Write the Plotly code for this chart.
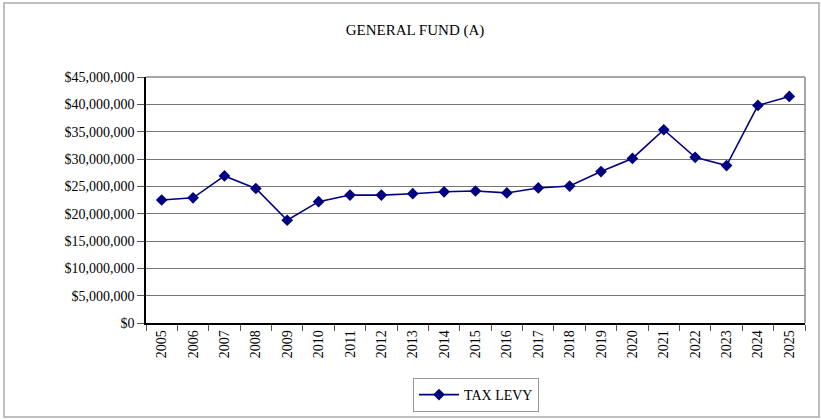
import plotly.graph_objects as go

# General fund tax levy by year
years = [str(y) for y in range(2005, 2026)]
tax_levy = [22.5e6, 22.9e6, 26.9e6, 24.6e6, 18.8e6, 22.2e6, 23.4e6, 23.4e6, 23.65e6,
            24.0e6, 24.15e6, 23.8e6, 24.7e6, 25.05e6, 27.7e6, 30.1e6, 35.35e6,
            30.3e6, 28.8e6, 39.8e6, 41.45e6]
y_ticks = list(range(0, 45_000_001, 5_000_000))
y_tick_text = ["$0"] + [f"${v:,.0f}" for v in y_ticks[1:]]

W, H = 821, 420
L, R, T, B = 146, 16, 77, 97
pw, ph = W - L - R, H - T - B

def px_x(x):
    return (x - L) / pw

def px_y(y):
    return (H - B - y) / ph

font = "Liberation Serif, Times New Roman, serif"

fig = go.Figure()
fig.add_trace(go.Scatter(
    x=years, y=tax_levy, mode="lines+markers", name="TAX LEVY",
    line=dict(color="#000080", width=1.6),
    marker=dict(symbol="diamond", size=9, color="#000080"),
))

fig.update_layout(
    width=W, height=H,
    margin=dict(l=L, r=R, t=T, b=B, autoexpand=False),
    paper_bgcolor="white", plot_bgcolor="white",
    font=dict(family=font, size=14, color="black"),
    title=dict(text="GENERAL FUND (A)", x=415 / W, xanchor="center",
               y=1 - 30 / H, yanchor="middle",
               font=dict(family=font, size=15, color="black")),
    showlegend=True,
    legend=dict(x=px_x(476), xanchor="center", y=px_y(395), yanchor="middle",
                orientation="h", bordercolor="#999999", borderwidth=1,
                font=dict(family=font, size=14), itemwidth=40,
                bgcolor="white"),
    xaxis=dict(type="category", tickangle=-90, showgrid=False,
               showline=True, linecolor="black", linewidth=1.5,
               ticks="outside", tickson="boundaries", ticklen=6,
               tickcolor="#555555", mirror=False, range=[-0.5, 20.5],
               tickfont=dict(family=font, size=14)),
    yaxis=dict(range=[0, 45_000_000], tickvals=y_ticks, ticktext=y_tick_text,
               showgrid=True, gridcolor="#777777", gridwidth=1,
               showline=True, linecolor="black", linewidth=1.5,
               ticks="outside", ticklen=7, tickcolor="#555555",
               tickfont=dict(family=font, size=14), zeroline=False),
    shapes=[
        # plot area frame (top and right edges)
        dict(type="line", xref="paper", yref="paper", x0=0, x1=1, y0=1, y1=1,
             line=dict(color="#888888", width=1.5)),
        dict(type="line", xref="paper", yref="paper", x0=1, x1=1, y0=0, y1=1,
             line=dict(color="#888888", width=1.5)),
        # outer chart border
        dict(type="rect", xref="paper", yref="paper",
             x0=px_x(4), x1=px_x(819), y0=px_y(417), y1=px_y(3),
             line=dict(color="#aaaaaa", width=1.5), layer="below"),
    ],
)

fig.write_html("out.html")
